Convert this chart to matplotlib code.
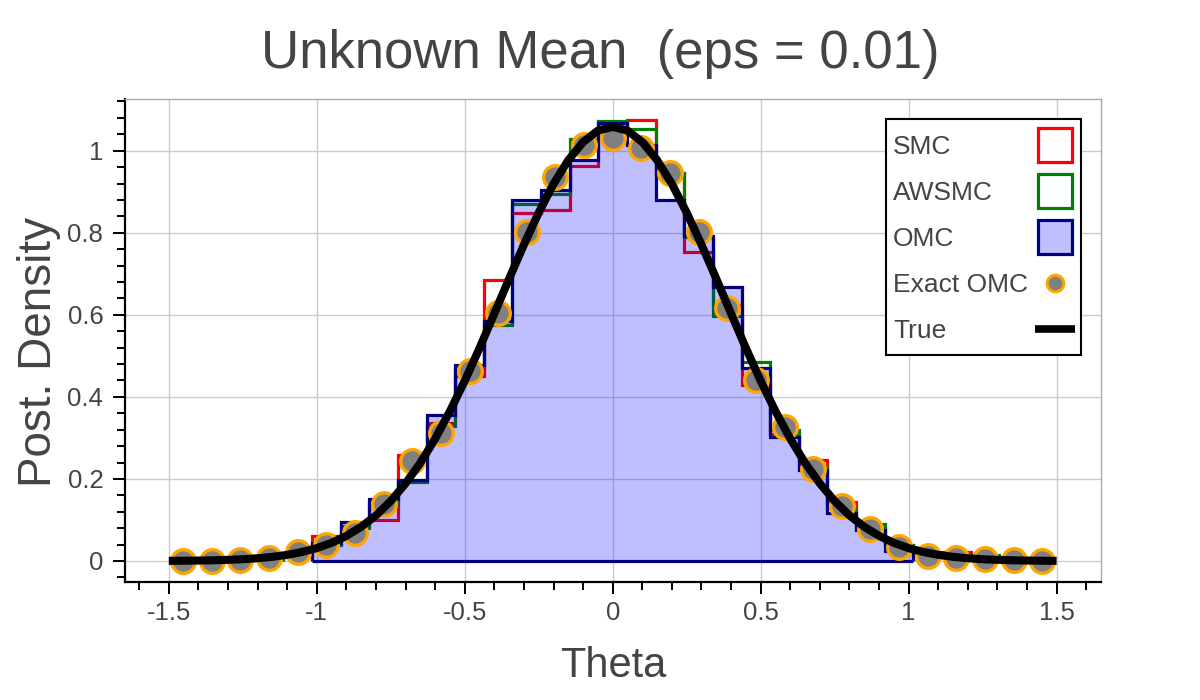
import numpy as np
import matplotlib
matplotlib.use('Agg')
import matplotlib.pyplot as plt
from matplotlib.patches import Rectangle
from matplotlib.ticker import MultipleLocator, FuncFormatter

plt.rcParams['font.family'] = ['Liberation Sans', 'DejaVu Sans']
plt.rcParams['axes.unicode_minus'] = False

# histogram bins shared by every method
bin_lo, bin_hi, n_bins = -1.5, 1.5, 31

# densities per bin (0 = empty bin)
smc = [0, 0, 0, 0, 0.010, 0.062, 0.085, 0.100, 0.259, 0.336, 0.452,
       0.685, 0.848, 0.856, 0.963, 1.050, 1.076, 0.946, 0.754, 0.625,
       0.430, 0.310, 0.246, 0.145, 0.080, 0.040, 0.015, 0.022, 0.006, 0, 0]
awsmc = [0, 0, 0, 0, 0.015, 0.040, 0.080, 0.140, 0.193, 0.330, 0.475,
         0.575, 0.870, 0.894, 1.028, 1.073, 1.053, 0.946, 0.790, 0.596,
         0.484, 0.320, 0.232, 0.130, 0.090, 0.040, 0.015, 0.010, 0.015, 0, 0]
omc = [0, 0, 0, 0, 0, 0.045, 0.096, 0.150, 0.198, 0.356, 0.478,
       0.585, 0.880, 0.905, 0.978, 1.068, 1.015, 0.880, 0.791, 0.668,
       0.470, 0.303, 0.222, 0.116, 0.075, 0.025, 0, 0, 0, 0, 0]
exact_omc = [0.0, 0.0, 0.002, 0.007, 0.023, 0.039, 0.069, 0.140, 0.244, 0.311,
             0.462, 0.605, 0.803, 0.937, 1.013, 1.031, 1.006, 0.946, 0.803,
             0.616, 0.440, 0.326, 0.224, 0.135, 0.078, 0.035, 0.013, 0.0065,
             0.004, 0.002, 0.0]

# true posterior, read every 0.05 from -1.5 to 1.5
true_x = np.linspace(-1.5, 1.5, 61)
true_half = [1.058, 1.049, 1.021, 0.977, 0.919, 0.849, 0.771, 0.688, 0.603,
             0.519, 0.439, 0.365, 0.298, 0.239, 0.189, 0.146, 0.111, 0.0833,
             0.0612, 0.0442, 0.0314, 0.0219, 0.0150, 0.0101, 0.0067, 0.0043,
             0.0028, 0.0017, 0.0011, 0.0006, 0.0004]
true_y = true_half[::-1] + true_half[1:]

labels = ['SMC', 'AWSMC', 'OMC', 'Exact OMC', 'True']

edges = np.linspace(bin_lo, bin_hi, n_bins + 1)
width = edges[1] - edges[0]
centers = edges[:-1] + width / 2

W, H = 1200, 700
text_col = '#444444'
fig = plt.figure(figsize=(W / 100, H / 100), dpi=100)
ax = fig.add_axes([125 / W, 1 - 582 / H, 975.7 / W, 483 / H])


def fx(px):
    return px / W


def fy(py):
    return 1 - py / H


def nz_range(vals):
    idx = np.nonzero(np.array(vals))[0]
    return idx[0], idx[-1] + 1


# step histograms
for vals, col in [(smc, 'red'), (awsmc, 'green')]:
    a, b = nz_range(vals)
    ax.stairs(vals[a:b], edges[a:b + 1], baseline=0, fill=False,
              edgecolor=col, linewidth=2.3, zorder=2)
a, b = nz_range(omc)
ax.stairs(omc[a:b], edges[a:b + 1], baseline=0, fill=True,
          facecolor=(0, 0, 1, 0.25), linewidth=0, zorder=2)
ax.stairs(omc[a:b], edges[a:b + 1], baseline=0, fill=False,
          edgecolor='navy', linewidth=2.3, zorder=2)
ax.hlines(0, edges[a], edges[b], color='navy', lw=2.3, zorder=2)

ax.plot(centers, exact_omc, 'o', ms=17, mfc='gray', mec='orange', mew=2.4,
        zorder=3)
ax.plot(true_x, true_y, color='black', lw=5.8, zorder=4, solid_capstyle='butt')

ax.set_xlim(-1.648, 1.649)
ax.set_ylim(-0.0512, 1.126)
ax.xaxis.set_major_locator(MultipleLocator(0.5))
ax.xaxis.set_minor_locator(MultipleLocator(0.1))
ax.yaxis.set_major_locator(MultipleLocator(0.2))
ax.yaxis.set_minor_locator(MultipleLocator(0.04))
fmt = FuncFormatter(lambda v, p: '%g' % round(v, 3))
ax.xaxis.set_major_formatter(fmt)
ax.yaxis.set_major_formatter(fmt)

ax.grid(True, which='major', color='#cccccc', lw=1.0)
ax.set_axisbelow(True)
ax.tick_params(which='major', direction='out', length=8.6, width=1.45,
               color='black', labelsize=18.5, labelcolor=text_col)
ax.tick_params(axis='x', which='major', pad=5)
ax.tick_params(axis='y', which='major', pad=7)
ax.tick_params(which='minor', direction='out', length=5.8, width=1.45,
               color='black')
for s in ['left', 'bottom']:
    ax.spines[s].set_linewidth(1.6)
    ax.spines[s].set_color('black')
for s in ['top', 'right']:
    ax.spines[s].set_linewidth(1.0)
    ax.spines[s].set_color('#aaaaaa')

fig.text(fx(612.8), fy(676.7), 'Theta', fontsize=30, color=text_col,
         ha='center', va='baseline')
fig.text(fx(38.6), fy(351.5), 'Post. Density', fontsize=33, color=text_col,
         ha='center', va='center', rotation=90)
fig.text(0.5, fy(68), 'Unknown Mean  (eps = 0.01)', fontsize=38,
         color=text_col, ha='center', va='baseline')

# legend: labels on the left, glyphs on the right
tf = fig.transFigure
frame = Rectangle((fx(886), fy(355)), fx(1081) - fx(886), fy(119) - fy(355),
                  transform=tf, facecolor='white', edgecolor='black', lw=1.5,
                  zorder=10)
fig.add_artist(frame)
row_y = [145, 191, 237, 282.5, 328.5]
for lab, ry in zip(labels, row_y):
    fig.text(fx(893), fy(ry + 9.4), lab, fontsize=19, color=text_col,
             ha='left', va='baseline', zorder=11)
sq = 34.5
for (face, edge), ry in zip([('white', 'red'), ('white', 'green'),
                             ((0.75, 0.75, 1.0), 'navy')], row_y[:3]):
    fig.add_artist(Rectangle((fx(1055 - sq / 2), fy(ry + sq / 2)),
                             sq / W, sq / H, transform=tf, facecolor=face,
                             edgecolor=edge, lw=2.3, zorder=11))
fig.add_artist(plt.Line2D([fx(1055)], [fy(row_y[3])], transform=tf, ls='none',
                          marker='o', ms=12, mfc='gray', mec='orange',
                          mew=2.2, zorder=11))
fig.add_artist(plt.Line2D([fx(1035), fx(1075)], [fy(row_y[4])] * 2,
                          transform=tf, color='black', lw=5.5,
                          solid_capstyle='butt', zorder=11))

fig.savefig('out.png', dpi=100)
